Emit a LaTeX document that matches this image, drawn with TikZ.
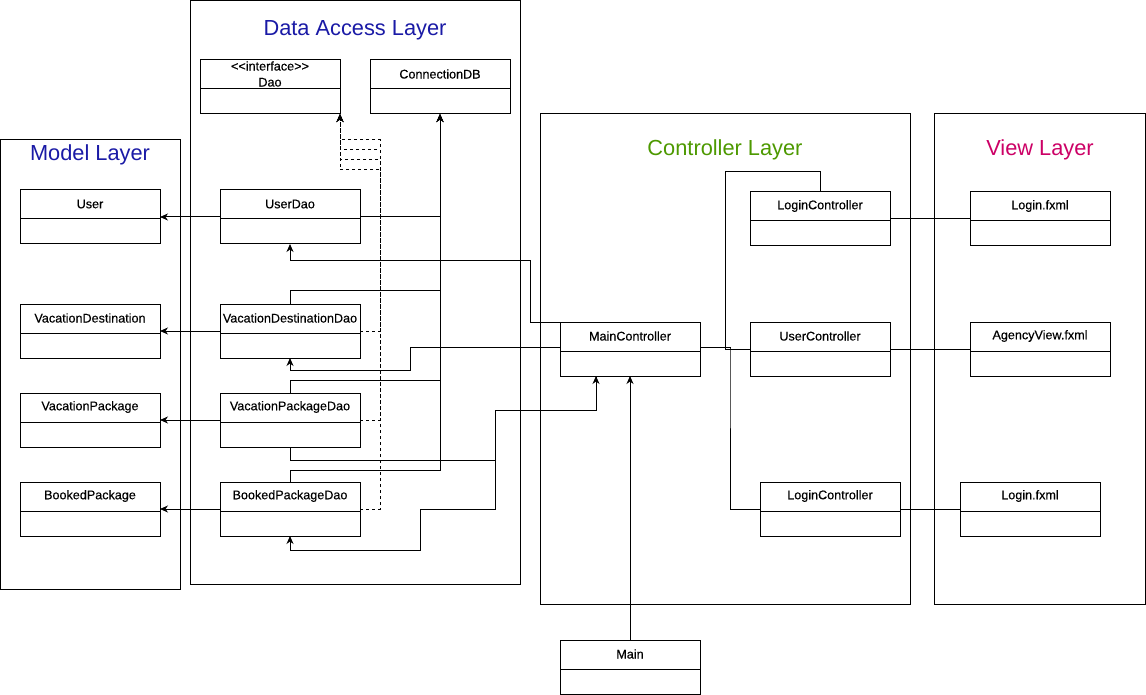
\documentclass[tikz,border=0pt]{standalone}
\usepackage{fontspec}
\setmainfont{Liberation Sans}
\newfontfamily\clsfont{Liberation Sans}[FakeBold=0.3]
\usetikzlibrary{arrows.meta,calc}
\definecolor{blueT}{HTML}{1A1AA6}
\definecolor{greenT}{HTML}{4D9900}
\definecolor{pinkT}{HTML}{CC0066}
\tikzset{
  clsbox/.style={draw, line width=1pt, minimum width=140pt, minimum height=54pt, inner sep=0pt, outer sep=0pt, anchor=north west},
  clstext/.style={inner sep=0pt, align=center, font=\clsfont\fontsize{12.6}{16}\selectfont},
  layerbox/.style={draw, line width=1pt, inner sep=0pt, outer sep=0pt, anchor=north west},
  layertitle/.style={inner sep=0pt, font=\fontsize{21.8}{26}\selectfont},
  conn/.style={line width=1pt},
  arr/.style={conn, -{Stealth[length=8pt,width=7pt,inset=2.5pt]}},
  darr/.style={arr, dash pattern=on 3pt off 3pt},
  divider/.style={line width=1pt},
}
\newcommand\umlcls[4]{%
  \node[clsbox] (#1) at (#2,#3) {};
  \draw[divider] ([yshift=-29pt]#1.north west) -- ([yshift=-29pt]#1.north east);
  \node[clstext] (#1-t) at ([yshift=-14pt]#1.north) {#4};
}
\begin{document}
\begin{tikzpicture}[x=1pt,y=-1pt]
\useasboundingbox (0,0) rectangle (1146,695);
\fill[white] (0,0) rectangle (1146,695);
% layers
\node[layerbox, minimum width=179.5pt, minimum height=449pt] (model) at (0.5,140) {};
\node[layertitle, text=blueT] (model-t) at (90,155) {Model Layer};
\node[layerbox, minimum width=330pt, minimum height=583.5pt] (dal) at (190,0.5) {};
\node[layertitle, text=blueT] (dal-t) at (355,30.5) {Data Access Layer};
\node[layerbox, minimum width=370pt, minimum height=490pt] (ctrl) at (540,114) {};
\node[layertitle, text=greenT] (ctrl-t) at (725,149.5) {Controller Layer};
\node[layerbox, minimum width=211pt, minimum height=490pt] (view) at (934,114) {};
\node[layertitle, text=pinkT] (view-t) at (1040,149.5) {View Layer};
% classes
\umlcls{dao}{200}{60}{<{}<interface>{}>\\Dao}
\umlcls{cdb}{370}{60}{ConnectionDB}
\umlcls{user}{20}{190}{User}
\umlcls{vd}{20}{304}{VacationDestination}
\umlcls{vp}{20}{393}{VacationPackage}
\umlcls{bp}{20}{482}{BookedPackage}
\umlcls{ud}{220}{190}{UserDao}
\umlcls{vdd}{220}{304}{VacationDestinationDao}
\umlcls{vpd}{220}{393}{VacationPackageDao}
\umlcls{bpd}{220}{482}{BookedPackageDao}
\umlcls{mc}{560}{322}{MainController}
\umlcls{main}{560}{640}{Main}
\umlcls{lca}{750}{192}{LoginController}
\umlcls{uc}{750}{322}{UserController}
\umlcls{lcb}{760}{482}{LoginController}
\umlcls{lfa}{970}{192}{Login.fxml}
\umlcls{av}{970}{322}{AgencyView.fxml}
\umlcls{lfb}{960}{482}{Login.fxml}
% dao -> model
\draw[arr] (ud.west) -- (user.east);
\draw[arr] (vdd.west) -- (vd.east);
\draw[arr] (vpd.west) -- (vp.east);
\draw[arr] (bpd.west) -- (bp.east);
% dao -> ConnectionDB
\draw[arr] (ud.east) -| (cdb.south);
\draw[arr] (vdd.north) -- (vdd.north |- 0,290) -| (cdb.south);
\draw[arr] (vpd.north) -- (vpd.north |- 0,380) -| (cdb.south);
\draw[arr] (bpd.north) -- (bpd.north |- 0,470) -| (cdb.south);
% realizations
\draw[darr] (ud.east) -| (380,140) -| (dao.south east);
\draw[darr] (vdd.east) -| (380,150) -| (dao.south east);
\draw[darr] (vpd.east) -| (380,160) -| (dao.south east);
\draw[darr] (bpd.east) -| (380,170) -| (dao.south east);
% main controller links
\coordinate (mcw) at ([yshift=2pt]mc.west);
\coordinate (mce) at ([yshift=2pt]mc.east);
\coordinate (mcs) at ([xshift=-34pt]mc.south);
\draw[arr] (mc.north west) -| (530,260) -| (ud.south);
\draw[arr] (mcw) -| (410,370) -| (vdd.south);
\draw[arr] (vpd.south) |- (495,460) |- (596,410) -- (mcs);
\draw[arr] (mcs) |- (495,410) |- (420,509) |- (290,550) -- (bpd.south);
\draw[arr] (main.north) -- (mc.south);
\draw[conn] (mce) -| (725,172) -| (lca.north);
\draw[conn] (mce) -| (725,349) -- (uc.west);
\draw[conn] (mce) -| (730,349) |- (lcb.west);
% views
\draw[conn] (lca.east) -- (lfa.west);
\draw[conn] (uc.east) -- (av.west);
\draw[conn] (lcb.east) -- (lfb.west);
\end{tikzpicture}
\end{document}
